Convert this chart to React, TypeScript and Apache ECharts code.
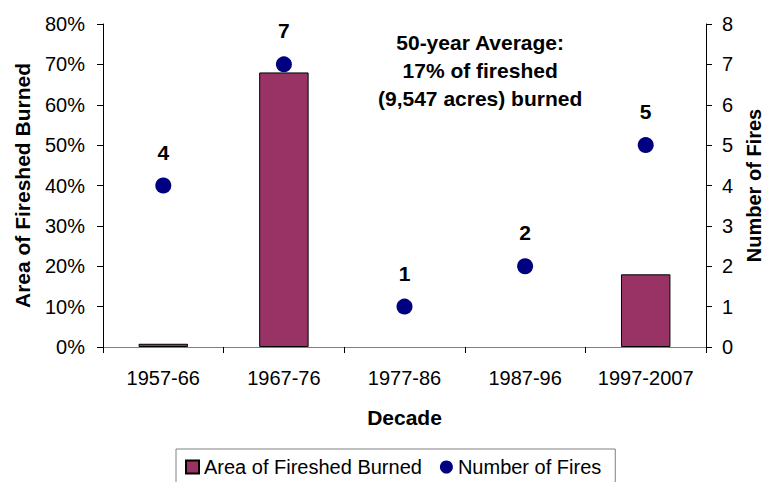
import React, { useEffect, useRef } from "react";
import * as echarts from "echarts";

const decades = ["1957-66", "1967-76", "1977-86", "1987-96", "1997-2007"];
const areaBurnedPct = [0.8, 68, 0, 0, 18];
const numberOfFires = [4, 7, 1, 2, 5];
const annotationLines = ["50-year Average:", "17% of fireshed", "(9,547 acres) burned"];

const FONT = "'Liberation Sans', Arial, sans-serif";
const FS = 20;
const FSB = 21;

export default function App() {
  const ref = useRef<HTMLDivElement>(null);
  useEffect(() => {
    if (!ref.current) return;
    const chart = echarts.init(ref.current, null, { renderer: "svg" });
    chart.setOption({
      animation: false,
      textStyle: { fontFamily: FONT, color: "#000" },
      grid: { left: 103, right: 58, top: 24, bottom: 135, containLabel: false, outerBoundsMode: "none" },
      legend: {
        left: 176,
        top: 449,
        itemWidth: 13,
        itemHeight: 13,
        itemGap: 18,
        padding: [8, 14, 8, 9],
        borderColor: "#808080",
        borderWidth: 1,
        textStyle: { fontFamily: FONT, fontSize: FS, color: "#000" },
        data: [
          { name: "Area of Fireshed Burned", icon: "rect" },
          { name: "Number of Fires", icon: "circle" },
        ],
      },
      xAxis: {
        type: "category",
        data: decades,
        name: "Decade",
        nameLocation: "middle",
        nameGap: 60,
        nameTextStyle: { fontFamily: FONT, fontSize: FSB, fontWeight: "bold", color: "#000" },
        axisLine: { lineStyle: { color: "#808080", width: 1 } },
        axisTick: { show: true, length: 6, lineStyle: { color: "#000" } },
        axisLabel: { interval: 0, fontFamily: FONT, fontSize: FS, color: "#000", margin: 21 },
      },
      yAxis: [
        {
          type: "value",
          min: 0,
          max: 80,
          interval: 10,
          name: "Area of Fireshed Burned",
          nameLocation: "middle",
          nameRotate: 90,
          nameGap: 70,
          nameTextStyle: { fontFamily: FONT, fontSize: FSB, fontWeight: "bold", color: "#000" },
          axisLine: { show: true, lineStyle: { color: "#000", width: 1 } },
          axisTick: { show: true, length: 6, lineStyle: { color: "#000" } },
          axisLabel: { formatter: "{value}%", fontFamily: FONT, fontSize: FS, color: "#000", margin: 18 },
          splitLine: { show: false },
        },
        {
          type: "value",
          min: 0,
          max: 8,
          interval: 1,
          position: "right",
          name: "Number of Fires",
          nameLocation: "middle",
          nameRotate: 90,
          nameGap: 31,
          nameTextStyle: { fontFamily: FONT, fontSize: 20, fontWeight: "bold", color: "#000" },
          axisLine: { show: true, lineStyle: { color: "#000", width: 1 } },
          axisTick: { show: true, length: 6, inside: false, lineStyle: { color: "#000" } },
          axisLabel: { fontFamily: FONT, fontSize: FS, color: "#000", margin: 16 },
          splitLine: { show: false },
        },
      ],
      series: [
        {
          name: "Area of Fireshed Burned",
          type: "bar",
          yAxisIndex: 0,
          data: areaBurnedPct.map((v) => (v === 0 ? null : v)),
          barWidth: "41%",
          itemStyle: { color: "#993366", borderColor: "#000", borderWidth: 1 },
        },
        {
          name: "Number of Fires",
          type: "scatter",
          yAxisIndex: 1,
          data: numberOfFires,
          symbol: "circle",
          symbolSize: 16,
          itemStyle: { color: "#000080", opacity: 1 },
          label: {
            show: true,
            position: "top",
            distance: 15,
            fontFamily: FONT,
            fontSize: FSB,
            fontWeight: "bold",
            color: "#000",
          },
        },
      ],
      graphic: [
        {
          type: "text",
          left: 378,
          top: 28,
          style: {
            text: annotationLines.join("\n"),
            x: 100,
            textAlign: "center",
            fontFamily: FONT,
            fontSize: FSB,
            fontWeight: "bold",
            lineHeight: 28,
            fill: "#000",
          },
        },
      ],
    });
    return () => chart.dispose();
  }, []);
  return <div ref={ref} style={{ width: 764, height: 482, position: "absolute", left: 0, top: 0, background: "#fff" }} />;
}
